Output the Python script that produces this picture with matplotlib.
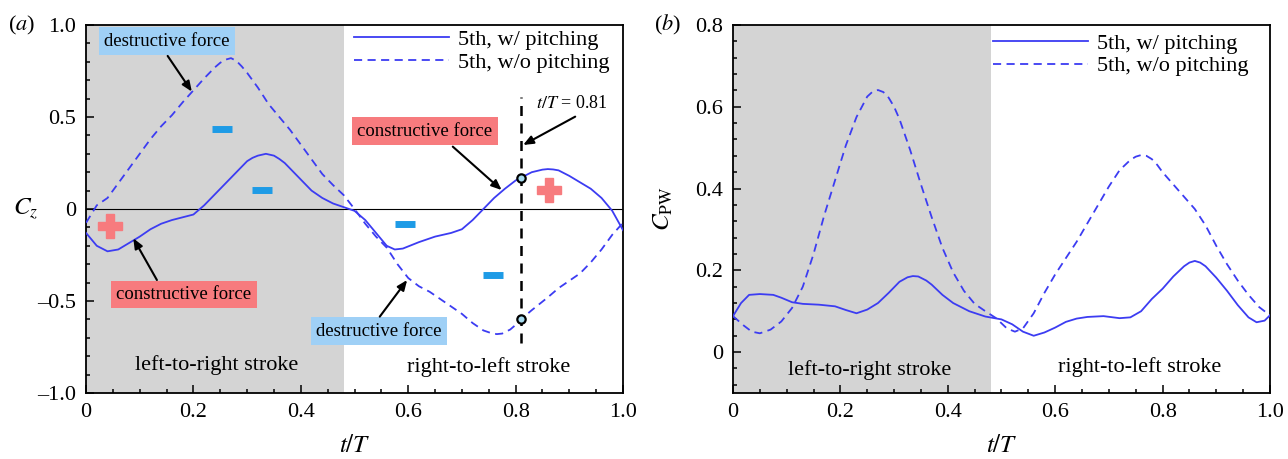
import matplotlib
matplotlib.use('Agg')
import matplotlib.pyplot as plt
from matplotlib.ticker import MultipleLocator, FixedLocator, FixedFormatter

plt.rcParams['font.family'] = ['Liberation Serif', 'DejaVu Serif']
plt.rcParams['mathtext.fontset'] = 'stix'

# ---- data ----
# (a) lift coefficient Cz
t_a_with = [0, 0.02, 0.04, 0.06, 0.08, 0.10, 0.12, 0.14, 0.16, 0.18, 0.20, 0.22, 0.24, 0.26,
            0.28, 0.30, 0.31, 0.32, 0.335, 0.35, 0.36, 0.37, 0.385, 0.40, 0.42, 0.44, 0.46,
            0.48, 0.50, 0.52, 0.54, 0.56, 0.575, 0.59, 0.62, 0.65, 0.68, 0.70, 0.72, 0.74,
            0.76, 0.78, 0.80, 0.81, 0.83, 0.85, 0.86, 0.87, 0.88, 0.90, 0.92, 0.94, 0.96,
            0.98, 1.00]
cz_with = [-0.13, -0.20, -0.23, -0.22, -0.185, -0.15, -0.11, -0.08, -0.06, -0.045, -0.03, 0.02,
           0.08, 0.14, 0.20, 0.26, 0.278, 0.29, 0.30, 0.29, 0.272, 0.25, 0.205, 0.16, 0.10,
           0.06, 0.03, 0.01, -0.01, -0.06, -0.13, -0.20, -0.22, -0.215, -0.18, -0.15, -0.13,
           -0.11, -0.06, 0.00, 0.06, 0.11, 0.155, 0.17, 0.20, 0.214, 0.217, 0.215, 0.21, 0.18,
           0.145, 0.11, 0.06, -0.01, -0.115]

t_a_without = [0, 0.02, 0.04, 0.06, 0.08, 0.10, 0.12, 0.14, 0.16, 0.18, 0.20, 0.22, 0.24, 0.25,
               0.26, 0.27, 0.28, 0.29, 0.30, 0.32, 0.34, 0.36, 0.38, 0.40, 0.42, 0.44, 0.46,
               0.48, 0.50, 0.52, 0.54, 0.56, 0.58, 0.60, 0.62, 0.64, 0.66, 0.68, 0.70, 0.72,
               0.74, 0.755, 0.765, 0.775, 0.79, 0.80, 0.81, 0.83, 0.86, 0.88, 0.90, 0.92,
               0.94, 0.96, 0.98, 1.00]
cz_without = [-0.075, 0.02, 0.06, 0.14, 0.22, 0.30, 0.38, 0.45, 0.51, 0.58, 0.645, 0.71, 0.77,
              0.795, 0.812, 0.82, 0.805, 0.775, 0.74, 0.66, 0.57, 0.50, 0.43, 0.35, 0.27, 0.19,
              0.13, 0.075, 0.00, -0.08, -0.15, -0.21, -0.30, -0.375, -0.42, -0.45, -0.49,
              -0.53, -0.57, -0.62, -0.66, -0.675, -0.68, -0.677, -0.655, -0.63, -0.60, -0.55,
              -0.48, -0.43, -0.39, -0.35, -0.29, -0.22, -0.14, -0.075]

# (b) power coefficient C_PW
t_b_with = [0, 0.015, 0.03, 0.05, 0.075, 0.09, 0.11, 0.13, 0.16, 0.19, 0.21, 0.23, 0.25, 0.27,
            0.29, 0.31, 0.325, 0.335, 0.345, 0.36, 0.37, 0.39, 0.41, 0.44, 0.47, 0.50, 0.52,
            0.54, 0.56, 0.58, 0.60, 0.62, 0.64, 0.66, 0.69, 0.72, 0.74, 0.76, 0.78, 0.80,
            0.82, 0.84, 0.85, 0.86, 0.87, 0.88, 0.90, 0.92, 0.94, 0.96, 0.975, 0.99, 1.00]
cpw_with = [0.088, 0.12, 0.14, 0.142, 0.14, 0.133, 0.122, 0.118, 0.116, 0.112, 0.103, 0.095,
            0.104, 0.12, 0.145, 0.172, 0.183, 0.186, 0.185, 0.175, 0.165, 0.14, 0.12, 0.10,
            0.087, 0.08, 0.068, 0.05, 0.04, 0.048, 0.06, 0.074, 0.082, 0.086, 0.088, 0.083,
            0.085, 0.10, 0.13, 0.155, 0.185, 0.21, 0.219, 0.223, 0.219, 0.21, 0.182, 0.15,
            0.115, 0.085, 0.073, 0.077, 0.09]

t_b_without = [0, 0.02, 0.035, 0.05, 0.07, 0.09, 0.11, 0.13, 0.15, 0.17, 0.19, 0.21, 0.23,
               0.25, 0.26, 0.27, 0.28, 0.29, 0.30, 0.31, 0.33, 0.35, 0.37, 0.39, 0.41, 0.43,
               0.45, 0.47, 0.49, 0.51, 0.525, 0.54, 0.56, 0.58, 0.60, 0.62, 0.64, 0.66, 0.68,
               0.70, 0.72, 0.74, 0.75, 0.76, 0.77, 0.78, 0.79, 0.80, 0.82, 0.84, 0.86, 0.88,
               0.90, 0.92, 0.94, 0.96, 0.98, 1.00]
cpw_without = [0.088, 0.065, 0.05, 0.046, 0.055, 0.075, 0.108, 0.16, 0.24, 0.335, 0.42, 0.505,
               0.575, 0.625, 0.637, 0.641, 0.636, 0.622, 0.60, 0.57, 0.494, 0.41, 0.33, 0.255,
               0.195, 0.15, 0.118, 0.10, 0.083, 0.058, 0.05, 0.058, 0.095, 0.145, 0.19, 0.23,
               0.27, 0.315, 0.36, 0.405, 0.445, 0.47, 0.478, 0.482, 0.48, 0.472, 0.458, 0.44,
               0.41, 0.38, 0.35, 0.31, 0.26, 0.215, 0.175, 0.14, 0.11, 0.09]

stroke_end = 0.48
t_mark = 0.81
mark_cz = [0.17, -0.60]
plus_t = [0.045, 0.862]
plus_cz = [-0.092, 0.103]
minus_t = [0.253, 0.327, 0.594, 0.758]
minus_cz = [0.435, 0.103, -0.083, -0.359]

labels = ['5th, w/ pitching', '5th, w/o pitching']
xticks = [0, 0.2, 0.4, 0.6, 0.8, 1.0]
xtick_labels = ['0', '0.2', '0.4', '0.6', '0.8', '1.0']
yticks_a = [-1.0, -0.5, 0, 0.5, 1.0]
ytick_labels_a = ['\u20131.0', '\u20130.5', '0', '0.5', '1.0']
yticks_b = [0, 0.2, 0.4, 0.6, 0.8]
ytick_labels_b = ['0', '0.2', '0.4', '0.6', '0.8']

line_col = '#3c3cf2'
gray = '#d4d4d4'
blue_box = '#9fd0f6'
red_box = '#f77b7e'
minus_col = '#1e9be6'
dash = (0, (4.5, 3))

fig = plt.figure(figsize=(12.88, 4.59), dpi=100)
ax1 = fig.add_axes([0.0668, 0.1438, 0.4169, 0.8017])
ax2 = fig.add_axes([0.5691, 0.1438, 0.4169, 0.8017])


def style_axis(ax, yticks, ylabels, yminor):
    ax.set_xlim(0, 1)
    ax.xaxis.set_major_locator(FixedLocator(xticks))
    ax.xaxis.set_major_formatter(FixedFormatter(xtick_labels))
    ax.yaxis.set_major_locator(FixedLocator(yticks))
    ax.yaxis.set_major_formatter(FixedFormatter(ylabels))
    ax.xaxis.set_minor_locator(MultipleLocator(0.05))
    ax.yaxis.set_minor_locator(MultipleLocator(yminor))
    ax.tick_params(which='both', direction='in', top=False, right=False, labelsize=16, width=1.1)
    ax.tick_params(which='major', length=6, pad=7)
    ax.tick_params(which='minor', length=3)
    for s in ax.spines.values():
        s.set_linewidth(1.3)
    ax.axvspan(0, stroke_end, color=gray, zorder=0, lw=0)


# ---- (a) ----
style_axis(ax1, yticks_a, ytick_labels_a, 0.1)
ax1.set_ylim(-1.0, 1.0)
ax1.axhline(0, color='black', lw=0.8, zorder=1)
ax1.plot(t_a_with, cz_with, color=line_col, lw=1.3, label=labels[0], zorder=3)
ax1.plot(t_a_without, cz_without, color=line_col, lw=1.3, ls=dash, label=labels[1], zorder=3)
ax1.plot([t_mark, t_mark], [-0.73, 0.61], color='black', lw=1.8, ls=(0, (4, 3)), zorder=2)
ax1.plot([t_mark] * len(mark_cz), mark_cz, 'o', ms=6, mfc='#a8dcf0', mec='black', mew=1.6, zorder=5)
ax1.plot(plus_t, plus_cz, 'P', ms=17, color=red_box, mec=red_box, zorder=4)
ax1.plot(minus_t, minus_cz, '_', ms=15, mew=5, color=minus_col, zorder=4)

ax1.text(0.151, 0.913, 'destructive force', fontsize=13.5, ha='center', va='center',
         bbox=dict(boxstyle='square,pad=0.28', fc=blue_box, ec='none'))
ax1.text(0.631, 0.423, 'constructive force', fontsize=13.5, ha='center', va='center',
         bbox=dict(boxstyle='square,pad=0.28', fc=red_box, ec='none'))
ax1.text(0.182, -0.465, 'constructive force', fontsize=13.5, ha='center', va='center',
         bbox=dict(boxstyle='square,pad=0.28', fc=red_box, ec='none'))
ax1.text(0.546, -0.664, 'destructive force', fontsize=13.5, ha='center', va='center',
         bbox=dict(boxstyle='square,pad=0.28', fc=blue_box, ec='none'))
ax1.text(0.904, 0.576, r'$t/T$ = 0.81', fontsize=13, ha='center', va='center')

arrow = dict(arrowstyle='-|>,head_length=0.6,head_width=0.25', color='black', lw=1.5,
             shrinkA=0, shrinkB=0)
ax1.annotate('', xy=(0.197, 0.638), xytext=(0.152, 0.832), arrowprops=arrow)
ax1.annotate('', xy=(0.774, 0.103), xytext=(0.683, 0.339), arrowprops=arrow)
ax1.annotate('', xy=(0.814, 0.348), xytext=(0.911, 0.502), arrowprops=arrow)
ax1.annotate('', xy=(0.088, -0.159), xytext=(0.132, -0.386), arrowprops=arrow)
ax1.annotate('', xy=(0.598, -0.386), xytext=(0.547, -0.585), arrowprops=arrow)

ax1.text(0.243, -0.848, 'left-to-right stroke', fontsize=16, ha='center', va='center')
ax1.text(0.749, -0.857, 'right-to-left stroke', fontsize=16, ha='center', va='center')

ax1.set_xlabel(r'$t/T$', fontsize=18)
ax1.xaxis.set_label_coords(0.5, -0.115)
ax1.set_ylabel(r'$C_z$', fontsize=18, rotation=0, ha='center', va='center')
ax1.yaxis.set_label_coords(-0.112, 0.5)
ax1.legend(loc='upper left', bbox_to_anchor=(0.49, 1.0), frameon=False, fontsize=16,
           handlelength=4.3, handletextpad=0.4, labelspacing=0.1, borderpad=0.2,
           borderaxespad=0)

# ---- (b) ----
style_axis(ax2, yticks_b, ytick_labels_b, 0.04)
ax2.set_ylim(-0.1, 0.8)
ax2.plot(t_b_with, cpw_with, color=line_col, lw=1.3, label=labels[0], zorder=3)
ax2.plot(t_b_without, cpw_without, color=line_col, lw=1.3, ls=dash, label=labels[1], zorder=3)
ax2.text(0.255, -0.044, 'left-to-right stroke', fontsize=16, ha='center', va='center')
ax2.text(0.758, -0.036, 'right-to-left stroke', fontsize=16, ha='center', va='center')

ax2.set_xlabel(r'$t/T$', fontsize=18)
ax2.xaxis.set_label_coords(0.5, -0.115)
ax2.set_ylabel(r'$C_{\mathrm{PW}}$', fontsize=18)
ax2.yaxis.set_label_coords(-0.108, 0.5)
ax2.legend(loc='upper left', bbox_to_anchor=(0.475, 0.99), frameon=False, fontsize=16,
           handlelength=4.3, handletextpad=0.4, labelspacing=0.1, borderpad=0.2,
           borderaxespad=0)

fig.text(22 / 1288, 1 - 25 / 459, r'($a$)', fontsize=16, ha='center', va='center')
fig.text(668 / 1288, 1 - 25 / 459, r'($b$)', fontsize=16, ha='center', va='center')

fig.savefig('out.png', dpi=100)
